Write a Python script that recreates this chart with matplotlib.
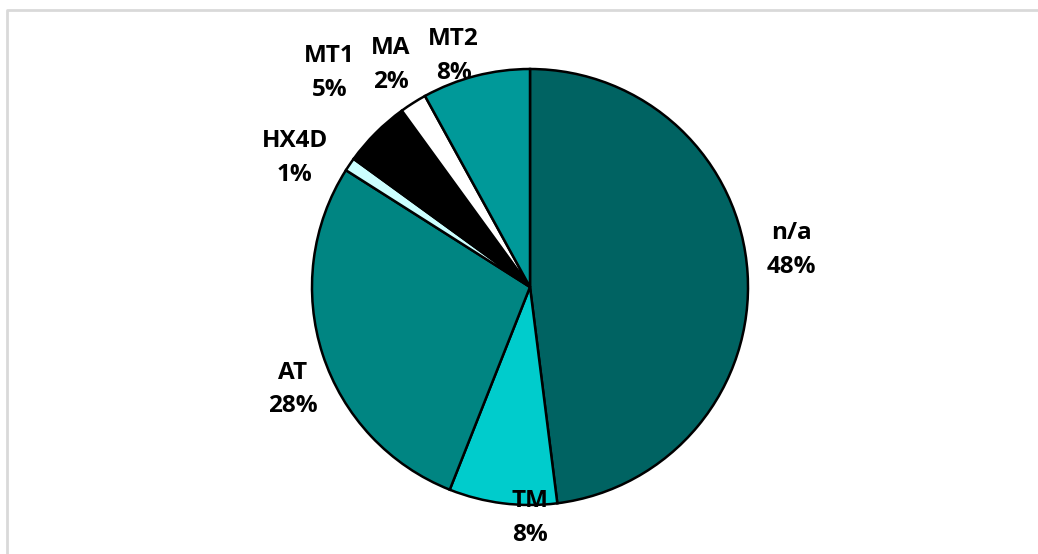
import matplotlib
matplotlib.use("Agg")
import matplotlib.pyplot as plt
from matplotlib.lines import Line2D

# data
labels = ["n/a", "TM", "AT", "HX4D", "MT1", "MA", "MT2"]
shares = [48, 8, 28, 1, 5, 2, 8]
colors = ["#006362", "#00CCCC", "#008582", "#CCFFFF", "#000000", "#FFFFFF", "#009999"]

# label block centres, in pie-radius units
label_pos = [(1.20, 0.17), (0.0, -1.06), (-1.09, -0.47), (-1.08, 0.59),
             (-0.92, 0.98), (-0.64, 1.02), (-0.35, 1.06)]

fig = plt.figure(figsize=(10.38, 5.54), dpi=100, facecolor="w")
ax = fig.add_axes([312/1038, 49/554, 436/1038, 436/554])

wedges, _ = ax.pie(shares, colors=colors, startangle=90, counterclock=False,
                   radius=1, wedgeprops=dict(edgecolor="black", linewidth=1.8))
ax.set_xlim(-1, 1)
ax.set_ylim(-1, 1)
ax.set_aspect("equal")
ax.axis("off")

for lab, val, (x, y) in zip(labels, shares, label_pos):
    ax.text(x, y, "%s\n%d%%" % (lab, val), ha="center", va="center",
            fontsize=17.5, fontweight="bold", family="Open Sans",
            linespacing=1.55, clip_on=False)

# thin grey frame like the chart area border
fig.add_artist(Line2D([7/1038, 7/1038, 1.0], [0.0, 1-10/554, 1-10/554],
                      transform=fig.transFigure, color="#D9D9D9", lw=2))

fig.savefig("out.png", dpi=100)
